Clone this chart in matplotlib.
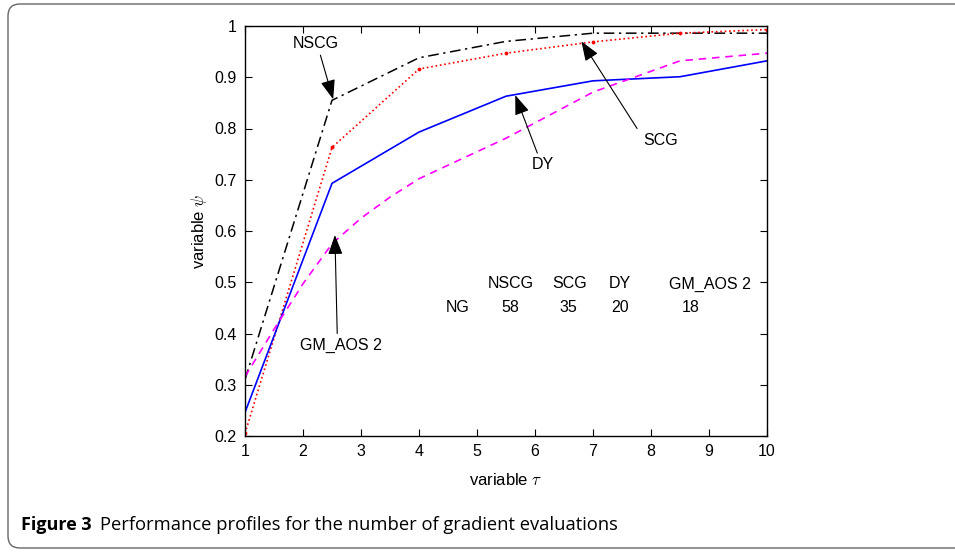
import matplotlib
matplotlib.use("Agg")
import matplotlib.pyplot as plt
from matplotlib.patches import FancyBboxPatch
from matplotlib.transforms import IdentityTransform

plt.rcParams['font.family'] = ['Liberation Sans', 'DejaVu Sans']
plt.rcParams['mathtext.fontset'] = 'cm'

# ---- data ----
tau = [1, 2.5, 4, 5.5, 7, 8.5, 10]
nscg = [0.31, 0.855, 0.938, 0.970, 0.986, 0.986, 0.986]
scg = [0.205, 0.763, 0.916, 0.947, 0.969, 0.986, 0.993]
dy = [0.246, 0.693, 0.793, 0.863, 0.893, 0.901, 0.932]
tau_gm = [1, 1.5, 2, 2.5, 3, 3.5, 4, 5.5, 7, 8.5, 10]
gm_aos2 = [0.316, 0.408, 0.497, 0.575, 0.625, 0.666, 0.702, 0.781, 0.871, 0.932, 0.947]

table_header = ["NSCG", "SCG", "DY", "GM_AOS 2"]
table_row_label = "NG"
table_values = ["58", "35", "20", "18"]

x_ticks = list(range(1, 11))
y_ticks = [0.2, 0.3, 0.4, 0.5, 0.6, 0.7, 0.8, 0.9, 1.0]
y_ticklabels = ["0.2", "0.3", "0.4", "0.5", "0.6", "0.7", "0.8", "0.9", "1"]

caption_bold = "Figure 3"
caption_text = "Performance profiles for the number of gradient evaluations"

# ---- figure ----
fig = plt.figure(figsize=(9.55, 5.52), dpi=100)
ax = fig.add_axes([245/955, 1-436/552, (767-245)/955, (436-26)/552])

ax.plot(tau, nscg, color='black', ls=(0, (7, 3, 1.5, 3)), lw=1.1)
ax.plot(tau, scg, color='red', ls=':', lw=1.2, marker='.', ms=3.5)
ax.plot(tau, dy, color='blue', ls='-', lw=1.2)
ax.plot(tau_gm, gm_aos2, color='magenta', ls=(0, (4.5, 3.5)), lw=1.2)

ax.set_xlim(1, 10)
ax.set_ylim(0.2, 1.0)
ax.set_xticks(x_ticks)
ax.set_xticklabels([str(t) for t in x_ticks])
ax.set_yticks(y_ticks)
ax.set_yticklabels(y_ticklabels)
ax.tick_params(direction='in', top=True, right=True, length=5, width=0.8,
               labelsize=11.5, pad=6)
for s in ax.spines.values():
    s.set_linewidth(1.0)

ax.set_xlabel(r"variable $\tau$", fontsize=12, labelpad=9)
ax.set_ylabel(r"variable $\psi$", fontsize=12, labelpad=4)

arrow_kw = dict(arrowstyle='-|>,head_length=1.2,head_width=0.45',
                color='black', lw=0.8, shrinkA=0, shrinkB=0)

def annotate(label, text_xy, tail_xy, tip_xy):
    ax.text(text_xy[0], text_xy[1], label, ha='center', va='center', fontsize=11.5)
    ax.annotate('', xy=tip_xy, xytext=tail_xy, arrowprops=arrow_kw)

annotate("NSCG", (2.22, 0.965), (2.30, 0.943), (2.52, 0.857))
annotate("SCG", (8.16, 0.776), (7.76, 0.800), (6.80, 0.970))
annotate("DY", (6.14, 0.729), (6.04, 0.752), (5.66, 0.865))
annotate("GM_AOS 2", (2.66, 0.376), (2.59, 0.400), (2.55, 0.592))

# table text
hdr_x = [5.58, 6.60, 7.47, 9.02]
val_x = [5.58, 6.57, 7.47, 8.68]
row_y_hdr = 1 - (284-26)/512.5
row_y_val = 1 - (307-26)/512.5
for hx, h in zip(hdr_x, table_header):
    ax.text(hx, row_y_hdr, h, ha='center', va='center', fontsize=11.5)
ax.text(4.66, row_y_val, table_row_label, ha='center', va='center', fontsize=11.5)
for vx, v in zip(val_x, table_values):
    ax.text(vx, row_y_val, v, ha='center', va='center', fontsize=11.5)

# caption
fig.text(21/955, 1-525/552, caption_bold, fontsize=13, fontweight='bold',
         family='Open Sans', ha='left', va='center')
fig.text(100/955, 1-525/552, caption_text, fontsize=13.2,
         family='Open Sans', ha='left', va='center')

# rounded border
border = FancyBboxPatch((8, 4), 1000, 544, boxstyle="round,pad=0,rounding_size=12",
                        transform=IdentityTransform(), fill=False,
                        edgecolor='#666666', lw=1.0)
fig.patches.append(border)

fig.savefig("out.png", dpi=100)
